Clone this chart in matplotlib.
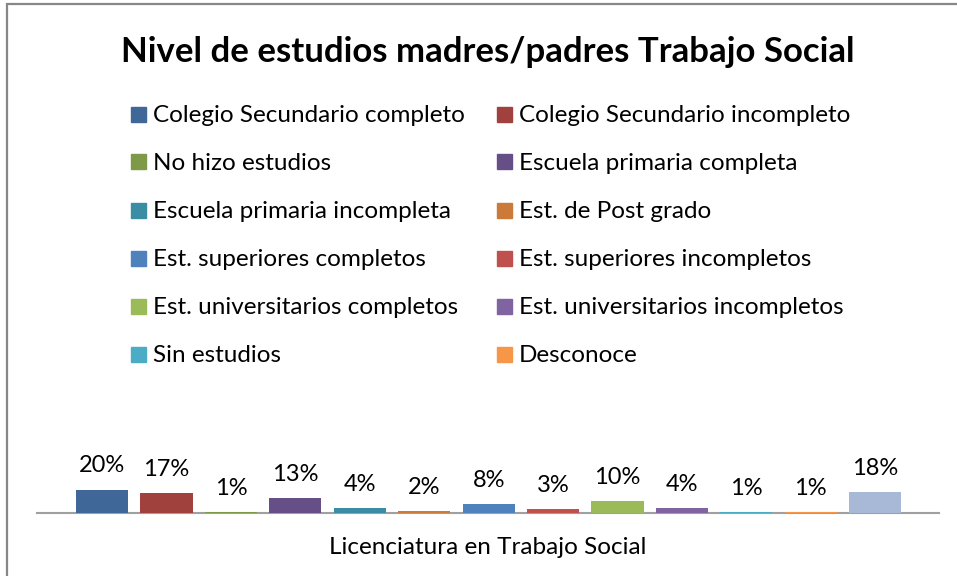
import matplotlib
matplotlib.use("Agg")
import matplotlib.pyplot as plt
from matplotlib.patches import Rectangle

plt.rcParams['font.family'] = ['Lato', 'DejaVu Sans']

# datos
categorias = [
    "Colegio Secundario completo", "Colegio Secundario incompleto",
    "No hizo estudios", "Escuela primaria completa",
    "Escuela primaria incompleta", "Est. de Post grado",
    "Est. superiores completos", "Est. superiores incompletos",
    "Est. universitarios completos", "Est. universitarios incompletos",
    "Sin estudios", "Desconoce", "",
]
valores = [20, 17, 1, 13, 4, 2, 8, 3, 10, 4, 1, 1, 18]
colores = [
    "#3F6797", "#A0413E", "#7E9A48", "#664F86", "#3B8DA4", "#CB7A39",
    "#4F81BD", "#C0504D", "#9BBB59", "#8064A2", "#4BACC6", "#F79646",
    "#A8B9D8",
]
titulo = "Nivel de estudios madres/padres Trabajo Social"
eje_x = "Licenciatura en Trabajo Social"

W, H = 957, 576
fig = plt.figure(figsize=(W / 100, H / 100), dpi=100)

# marco gris del grafico
fig.patches.append(Rectangle((7 / W, -0.05), 1.1, 1 - 4 / H + 0.05,
                             transform=fig.transFigure, fill=False,
                             edgecolor="#878787", linewidth=1.6))

ax = fig.add_axes([37 / W, (H - 513) / H, 902 / W, 117 / H])
x = range(len(valores))
# barras encima de la linea del eje, como en Excel
ax.bar(x, valores, width=52 / 64.4, color=colores, zorder=3)
for i, v in enumerate(valores):
    ax.annotate(f"{v}%", (i, v), xytext=(0, 17), textcoords="offset points",
                ha="center", va="center", fontsize=17, color="#000000")

ax.set_xlim(-1.01, 12.99)
ax.set_ylim(0, 100)
for s in ["top", "left", "right"]:
    ax.spines[s].set_visible(False)
ax.spines["bottom"].set_color("#A0A0A0")
ax.spines["bottom"].set_linewidth(1.5)
ax.set_yticks([])
ax.set_xticks([])
ax.set_xlabel(eje_x, fontsize=17.5, labelpad=17)

fig.text(488 / W, 1 - 52 / H, titulo, ha="center", va="center",
         fontsize=25, fontweight="bold")

# leyenda en dos columnas (fila por fila, como Excel)
col_x = [131, 497]
for k, nombre in enumerate(categorias[:12]):
    fila, col = divmod(k, 2)
    yc = 114 + 48 * fila
    fig.patches.append(Rectangle((col_x[col] / W, 1 - (yc + 7.5) / H), 15 / W, 15 / H,
                                 transform=fig.transFigure, color=colores[k]))
    fig.text((col_x[col] + 22) / W, 1 - (yc + 2) / H, nombre, ha="left", va="center",
             fontsize=17.5)

fig.savefig("out.png", dpi=100)
